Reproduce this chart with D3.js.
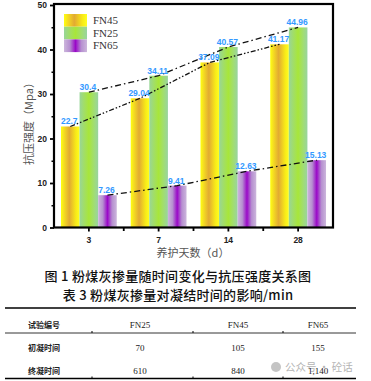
<!DOCTYPE html>
<html>
<head>
<meta charset="utf-8">
<script src="https://cdn.jsdelivr.net/npm/d3@7"></script>
<style>
  body { margin: 0; background: #fff; }
  svg { display: block; }
</style>
</head>
<body>
<div id="chart"></div>
<script>
// 数据
var days = ["3", "7", "14", "28"];
var seriesNames = ["FN45", "FN25", "FN65"];
var fn45 = [22.7, 29.04, 37.09, 41.17];
var fn25 = [30.4, 34.11, 40.57, 44.96];
var fn65 = [7.26, 9.41, 12.63, 15.13];
var valueLabels = {
  FN45: ["22.7", "29.04", "37.09", "41.17"],
  FN25: ["30.4", "34.11", "40.57", "44.96"],
  FN65: ["7.26", "9.41", "12.63", "15.13"]
};
var yTicks = [0, 10, 20, 30, 40, 50];
var yMinorTicks = [5, 15, 25, 35, 45];

// 表3
var tableHeader = ["试验编号", "FN25", "FN45", "FN65"];
var rowNames = ["初凝时间", "终凝时间"];
var initialSet = [70, 105, 155];
var finalSet = [610, 840, 1140];

var width = 371, height = 381;
var plot = { left: 54, right: 333, top: 5, bottom: 227.5 };

var seriesData = { FN45: fn45, FN25: fn25, FN65: fn65 };

var svg = d3.select("#chart").append("svg")
  .attr("width", width)
  .attr("height", height);

// 渐变填充
var defs = svg.append("defs");
var gradStops = {
  FN45: [["0%", "#ffff10"], ["15%", "#f6e020"], ["45%", "#e2aa32"], ["80%", "#f8ea18"], ["100%", "#ffff20"]],
  FN25: [["0%", "#98d698"], ["20%", "#a0dc70"], ["50%", "#a8e63a"], ["80%", "#a0dc78"], ["100%", "#98d4a0"]],
  FN65: [["0%", "#ccb6dc"], ["25%", "#b690d0"], ["50%", "#9a08c8"], ["75%", "#b690d0"], ["100%", "#ccb6dc"]]
};
seriesNames.forEach(function(s) {
  var g = defs.append("linearGradient")
    .attr("id", "grad-" + s)
    .attr("x1", "0%").attr("x2", "100%")
    .attr("y1", "0%").attr("y2", "0%");
  gradStops[s].forEach(function(st) {
    g.append("stop").attr("offset", st[0]).attr("stop-color", st[1]);
  });
});

var x = d3.scaleBand()
  .domain(days)
  .range([plot.left, plot.right])
  .padding(0);

var xSub = d3.scaleBand()
  .domain(seriesNames)
  .range([0, x.bandwidth()])
  .paddingInner(0)
  .paddingOuter(0.375);

var y = d3.scaleLinear()
  .domain([0, 50])
  .range([plot.bottom, plot.top]);

// 柱子
seriesNames.forEach(function(s) {
  svg.append("g")
    .selectAll("rect")
    .data(seriesData[s])
    .enter()
      .append("rect")
      .attr("x", function(d, i) { return x(days[i]) + xSub(s); })
      .attr("y", function(d) { return y(d); })
      .attr("width", xSub.bandwidth())
      .attr("height", function(d) { return y(0) - y(d); })
      .attr("fill", "url(#grad-" + s + ")");
});

// 点划线
var dashes = { FN45: "5,2,1.5,2,1.5,2", FN25: "6,3,1.5,3", FN65: "6,3,1.5,3" };
seriesNames.forEach(function(s) {
  var line = d3.line()
    .x(function(d, i) { return x(days[i]) + xSub(s) + xSub.bandwidth() / 2; })
    .y(function(d) { return y(d); });
  svg.append("path")
    .datum(seriesData[s])
    .attr("d", line)
    .attr("fill", "none")
    .attr("stroke", "#111")
    .attr("stroke-width", 1.3)
    .attr("stroke-dasharray", dashes[s]);
});

// 数值标签
seriesNames.forEach(function(s) {
  svg.append("g")
    .selectAll("text")
    .data(seriesData[s])
    .enter()
      .append("text")
      .attr("x", function(d, i) { return x(days[i]) + xSub(s) + xSub.bandwidth() / 2 - 1; })
      .attr("y", function(d) { return y(d) - 2; })
      .attr("text-anchor", "middle")
      .attr("font-family", "Liberation Sans, Arial, sans-serif")
      .attr("font-weight", "bold")
      .attr("font-size", "8.5px")
      .attr("fill", "#3399ff")
      .text(function(d, i) { return valueLabels[s][i]; });
});

// 坐标框
svg.append("rect")
  .attr("x", plot.left)
  .attr("y", plot.top - 1)
  .attr("width", plot.right - plot.left)
  .attr("height", plot.bottom - plot.top + 1)
  .attr("fill", "none")
  .attr("stroke", "#000")
  .attr("stroke-width", 2.2);

// y轴
var yAxis = d3.axisLeft(y).tickValues(yTicks).tickSize(4).tickPadding(3);
var yg = svg.append("g")
  .attr("transform", "translate(" + plot.left + ",0)")
  .call(yAxis);
yg.select(".domain").remove();
yg.selectAll("line").attr("stroke-width", 1.8);
yg.selectAll("text")
  .attr("font-family", "Liberation Sans, Arial, sans-serif")
  .attr("font-weight", "bold")
  .attr("font-size", "8.5px")
  .attr("fill", "#222");

var yMinor = svg.append("g")
  .attr("transform", "translate(" + plot.left + ",0)")
  .call(d3.axisLeft(y).tickValues(yMinorTicks).tickSize(2.5).tickFormat(""));
yMinor.select(".domain").remove();
yMinor.selectAll("line").attr("stroke-width", 1.5);

// x轴
var xAxis = d3.axisBottom(x).tickSize(4).tickPadding(5);
var xg = svg.append("g")
  .attr("transform", "translate(0," + plot.bottom + ")")
  .call(xAxis);
xg.select(".domain").remove();
xg.selectAll("line").attr("stroke-width", 1.8);
xg.selectAll("text")
  .attr("font-family", "Liberation Sans, Arial, sans-serif")
  .attr("font-weight", "bold")
  .attr("font-size", "8.5px")
  .attr("fill", "#222");

var bounds = days.slice(1).map(function(d) { return x(d); });
svg.append("g")
  .selectAll("line")
  .data(bounds)
  .enter()
    .append("line")
    .attr("x1", function(d) { return d; })
    .attr("x2", function(d) { return d; })
    .attr("y1", plot.bottom)
    .attr("y2", plot.bottom + 3.5)
    .attr("stroke", "#000")
    .attr("stroke-width", 1.8);

// 坐标轴标题
svg.append("text")
  .attr("transform", "translate(33,121) rotate(-90)")
  .attr("text-anchor", "middle")
  .attr("font-family", "Noto Sans CJK SC, sans-serif")
  .attr("font-size", "11px")
  .attr("fill", "#555")
  .text("抗压强度（Mpa）");

svg.append("text")
  .attr("x", 193)
  .attr("y", 257)
  .attr("text-anchor", "middle")
  .attr("font-family", "Noto Sans CJK SC, sans-serif")
  .attr("font-size", "11px")
  .attr("fill", "#555")
  .text("养护天数（d）");

// 图例
var legend = svg.append("g").attr("class", "legend");
seriesNames.forEach(function(s, i) {
  legend.append("rect")
    .attr("x", 64)
    .attr("y", 14 + i * 12.7)
    .attr("width", 23)
    .attr("height", 12.7)
    .attr("fill", "url(#grad-" + s + ")");
  legend.append("text")
    .attr("x", 93)
    .attr("y", 14 + i * 12.7 + 10)
    .attr("font-family", "Liberation Serif, Times New Roman, serif")
    .attr("font-size", "11px")
    .attr("fill", "#333")
    .text(s);
});

// 图题
svg.append("text")
  .attr("x", 178)
  .attr("y", 281)
  .attr("text-anchor", "middle")
  .attr("xml:space", "preserve")
  .attr("font-family", "Noto Sans CJK SC, sans-serif")
  .attr("font-size", "13px")
  .attr("letter-spacing", "0.3px")
  .attr("font-weight", "500")
  .attr("fill", "#111")
  .text("图 1 粉煤灰掺量随时间变化与抗压强度关系图");

svg.append("text")
  .attr("x", 178)
  .attr("y", 300)
  .attr("text-anchor", "middle")
  .attr("xml:space", "preserve")
  .attr("font-family", "Noto Sans CJK SC, sans-serif")
  .attr("font-size", "13px")
  .attr("letter-spacing", "0.3px")
  .attr("font-weight", "500")
  .attr("fill", "#111")
  .text("表 3 粉煤灰掺量对凝结时间的影响/min");

// 表格
var colX = [28, 140, 238, 318];
var tableLines = [
  { y: 308, w: 1.5 },
  { y: 333, w: 0.8 },
  { y: 378.5, w: 1.5 }
];
svg.append("g")
  .selectAll("line")
  .data(tableLines)
  .enter()
    .append("line")
    .attr("x1", 5)
    .attr("x2", 356)
    .attr("y1", function(d) { return d.y; })
    .attr("y2", function(d) { return d.y; })
    .attr("stroke", "#000")
    .attr("stroke-width", function(d) { return d.w; });

[92, 193, 283].forEach(function(tx) {
  svg.append("line")
    .attr("x1", tx).attr("x2", tx)
    .attr("y1", 331).attr("y2", 333)
    .attr("stroke", "#000")
    .attr("stroke-width", 1);
  svg.append("line")
    .attr("x1", tx).attr("x2", tx)
    .attr("y1", 376.5).attr("y2", 378.5)
    .attr("stroke", "#000")
    .attr("stroke-width", 1);
});

// 水印
svg.append("circle").attr("cx", 276).attr("cy", 367).attr("r", 5).attr("fill", "#c4c4c4");
svg.append("text")
  .attr("x", 285)
  .attr("y", 371)
  .attr("font-family", "Noto Sans CJK SC, sans-serif")
  .attr("font-size", "10.5px")
  .attr("fill", "#b4b4b4")
  .text("公众号 · 砼话");

var rowsY = [325, 348, 371];
var fmt = d3.format(",");
var tableRows = [
  tableHeader,
  [rowNames[0]].concat(initialSet.map(fmt)),
  [rowNames[1]].concat(finalSet.map(fmt))
];
tableRows.forEach(function(row, r) {
  row.forEach(function(cell, c) {
    svg.append("text")
      .attr("x", colX[c])
      .attr("y", rowsY[r] + 3)
      .attr("text-anchor", c === 0 ? "start" : "middle")
      .attr("font-family", c === 0 ? "Noto Sans CJK SC, sans-serif" : "Liberation Serif, Times New Roman, serif")
      .attr("font-weight", c === 0 ? "bold" : "normal")
      .attr("font-size", c === 0 ? "8px" : "9px")
      .attr("fill", "#222")
      .text(cell);
  });
});
</script>
</body>
</html>
